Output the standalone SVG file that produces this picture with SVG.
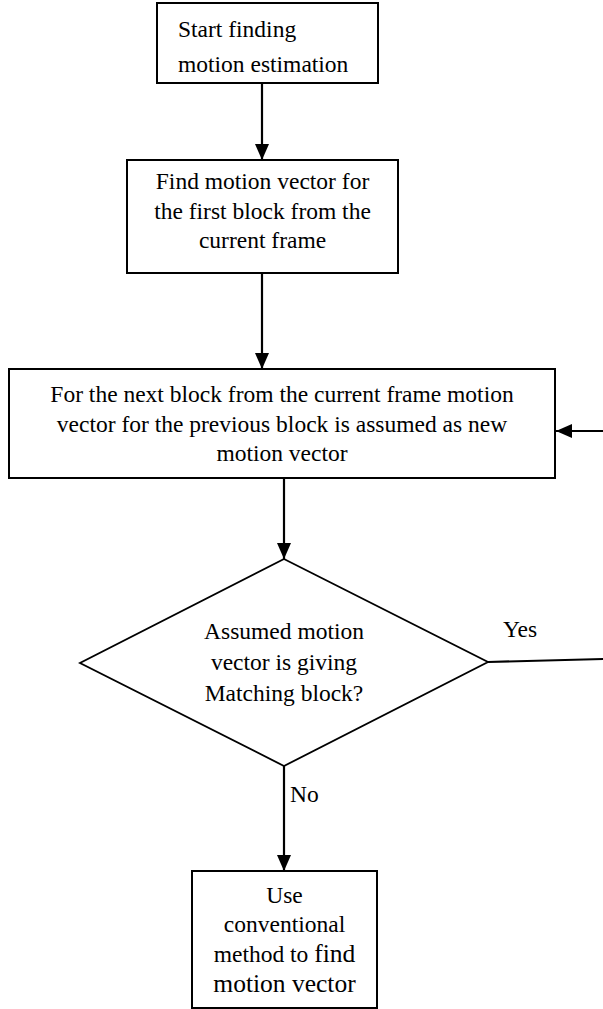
<svg xmlns="http://www.w3.org/2000/svg" width="603" height="1009" viewBox="0 0 603 1009" font-family="'Liberation Serif', Tinos, 'Times New Roman', 'DejaVu Serif', serif">
<style>
.box{fill:#fff;stroke:#000;stroke-width:2}
.dia{fill:#fff;stroke:#000;stroke-width:1.8}
text{font-family:'Liberation Serif',Tinos,'Times New Roman','DejaVu Serif',serif;font-size:23.5px;fill:#000}
.c{text-anchor:middle}
.big{font-size:25.5px}
.con{stroke:#000;stroke-width:2.2;fill:none}
</style>
<defs>
<marker id="ah" viewBox="0 0 16 14" refX="16" refY="7" markerWidth="16" markerHeight="14" markerUnits="userSpaceOnUse" orient="auto">
<path d="M0,0 L16,7 L0,14 z" fill="#000"/>
</marker>
</defs>
<rect width="603" height="1009" fill="#fff"/>
<g id="connectors">
<line class="con" x1="262" y1="83" x2="262" y2="160" marker-end="url(#ah)"/>
<line class="con" x1="262" y1="273" x2="262" y2="369" marker-end="url(#ah)"/>
<line class="con" x1="284" y1="478" x2="284" y2="559" marker-end="url(#ah)"/>
<line class="con" x1="284" y1="766" x2="284" y2="871" marker-end="url(#ah)"/>
<line class="con" x1="603" y1="431" x2="556" y2="431" marker-end="url(#ah)"/>
<line class="con" x1="488" y1="662" x2="603" y2="659"/>
<text x="503" y="637">Yes</text>
<text x="290" y="802">No</text>
</g>
<g id="start">
<rect class="box" x="157" y="3" width="221" height="80"/>
<text x="178" y="37">Start finding</text>
<text x="178" y="72">motion estimation</text>
</g>
<g id="first">
<rect class="box" x="127" y="160" width="271" height="113"/>
<text class="c" x="262.5" y="189">Find motion vector for</text>
<text class="c" x="262.5" y="219">the first block from the</text>
<text class="c" x="262.5" y="248">current frame</text>
</g>
<g id="next">
<rect class="box" x="9" y="369" width="546" height="109"/>
<text class="c" x="282" y="402">For the next block from the current frame motion</text>
<text class="c" x="282" y="432">vector for the previous block is assumed as new</text>
<text class="c" x="282" y="461">motion vector</text>
</g>
<g id="decision">
<polygon class="dia" points="284,559 488,662 284,766 80,663"/>
<text class="c" x="284" y="639">Assumed motion</text>
<text class="c" x="284" y="670">vector is giving</text>
<text class="c" x="284" y="701">Matching block?</text>
</g>
<g id="conventional">
<rect class="box" x="192" y="871" width="185" height="137"/>
<text class="c" x="284.5" y="903">Use</text>
<text class="c" x="284.5" y="932">conventional</text>
<text class="c" x="284.5" y="962">method to <tspan class="big">find</tspan></text>
<text class="c big" x="284.5" y="992">motion vector</text>
</g>
</svg>
